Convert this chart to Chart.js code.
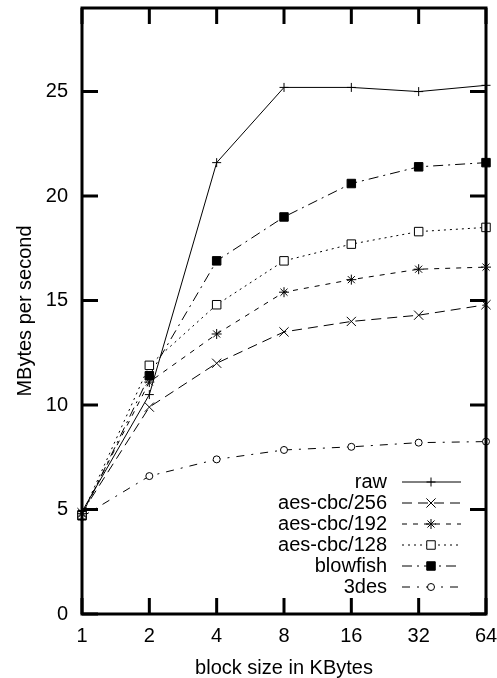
<!DOCTYPE html>
<html>
<head>
<meta charset="utf-8">
<script src="https://cdn.jsdelivr.net/npm/chart.js@4/dist/chart.umd.min.js"></script>
<style>
  body { margin: 0; background: #fff; }
  canvas { display: block; }
</style>
</head>
<body>
<canvas id="speed_chart" width="497" height="678"></canvas>
<script>
// block sizes (KBytes) and throughput values
const blockSizes = ["1", "2", "4", "8", "16", "32", "64"];
const yTicks = [0, 5, 10, 15, 20, 25];

const raw = [4.9, 10.5, 21.6, 25.2, 25.2, 25.0, 25.3];
const aes256 = [4.85, 9.9, 12.0, 13.5, 14.0, 14.3, 14.8];
const aes192 = [4.8, 11.1, 13.4, 15.4, 16.0, 16.5, 16.6];
const aes128 = [4.75, 11.9, 14.8, 16.9, 17.7, 18.3, 18.5];
const blowfish = [4.7, 11.4, 16.9, 19.0, 20.6, 21.4, 21.6];
const des3 = [4.65, 6.6, 7.4, 7.85, 8.0, 8.2, 8.25];

const FONT = "Liberation Sans, Arial, Helvetica, sans-serif";

function series(label, data, dash, style, radius, fill) {
  return {
    label: label,
    data: data,
    borderColor: "#000",
    borderWidth: 1,
    borderDash: dash,
    tension: 0,
    fill: false,
    clip: false,
    pointStyle: style,
    pointRadius: radius,
    pointHoverRadius: radius,
    pointBorderWidth: 1,
    pointBorderColor: "#000",
    pointBackgroundColor: fill,
  };
}

function noPadding(scale) {
  scale.paddingTop = 0;
  scale.paddingBottom = 0;
  scale.paddingLeft = 0;
  scale.paddingRight = 0;
}

// frame, inward ticks on all four sides, and gnuplot-style key
const framePlugin = {
  id: "frame",
  afterDraw(chart) {
    const ctx = chart.ctx;
    const a = chart.chartArea;
    const xs = chart.scales.x;
    const ys = chart.scales.y;
    const tl = 16;
    ctx.save();
    ctx.strokeStyle = "#000";
    ctx.lineWidth = 3;
    ctx.setLineDash([]);
    ctx.beginPath();
    yTicks.forEach((v) => {
      const py = ys.getPixelForValue(v);
      ctx.moveTo(a.left, py);
      ctx.lineTo(a.left + tl, py);
      ctx.moveTo(a.right, py);
      ctx.lineTo(a.right - tl, py);
    });
    blockSizes.forEach((b, i) => {
      const px = xs.getPixelForValue(i);
      ctx.moveTo(px, a.bottom);
      ctx.lineTo(px, a.bottom - tl);
      ctx.moveTo(px, a.top);
      ctx.lineTo(px, a.top + tl);
    });
    ctx.stroke();
    ctx.strokeRect(a.left, a.top, a.right - a.left, a.bottom - a.top);

    // key
    const textRight = 387;
    const x0 = 402, x1 = 461, xm = 431;
    let y = 482;
    ctx.font = "20px " + FONT;
    ctx.fillStyle = "#000";
    ctx.textAlign = "right";
    ctx.textBaseline = "middle";
    chart.data.datasets.forEach((ds) => {
      ctx.fillText(ds.label, textRight, y);
      ctx.lineWidth = 1;
      ctx.setLineDash(ds.borderDash);
      ctx.beginPath();
      ctx.moveTo(x0, y);
      ctx.lineTo(x1, y);
      ctx.stroke();
      ctx.setLineDash([]);
      ctx.fillStyle = ds.pointBackgroundColor;
      Chart.helpers.drawPoint(ctx, {
        pointStyle: ds.pointStyle,
        radius: ds.pointRadius,
        borderWidth: 1,
        rotation: 0,
      }, xm, y);
      ctx.fillStyle = "#000";
      y += 21;
    });
    ctx.restore();
  },
};

const ctx = document.getElementById("speed_chart").getContext("2d");
const speedChart = new Chart(ctx, {
  type: "line",
  data: {
    labels: blockSizes,
    datasets: [
      series("raw", raw, [], "cross", 4.5, "#000"),
      series("aes-cbc/256", aes256, [10, 6], "crossRot", 6.5, "#000"),
      series("aes-cbc/192", aes192, [5, 6], "star", 5, "#000"),
      series("aes-cbc/128", aes128, [2, 4], "rect", 6, "#fff"),
      series("blowfish", blowfish, [10, 5, 2, 5], "rect", 6, "#000"),
      series("3des", des3, [8, 7, 2, 7], "circle", 3.5, "#fff"),
    ],
  },
  options: {
    responsive: false,
    animation: false,
    events: [],
    layout: {
      padding: { left: 0, top: 8, right: 11, bottom: 0 },
    },
    plugins: {
      legend: { display: false },
      tooltip: { enabled: false },
    },
    scales: {
      x: {
        type: "category",
        offset: false,
        grid: { display: false, drawTicks: false },
        border: { display: false },
        ticks: {
          color: "#000",
          padding: 10,
          maxRotation: 0,
          autoSkip: false,
          font: { family: FONT, size: 20, lineHeight: 1.2 },
        },
        title: {
          display: true,
          text: "block size in KBytes",
          color: "#000",
          padding: 0,
          font: { family: FONT, size: 20, lineHeight: 1.0 },
        },
        afterFit(scale) {
          scale.height = 64;
          noPadding(scale);
        },
      },
      y: {
        min: 0,
        max: 29,
        grid: { display: false, drawTicks: false },
        border: { display: false },
        ticks: {
          color: "#000",
          padding: 14,
          font: { family: FONT, size: 20, lineHeight: 1.2 },
        },
        afterBuildTicks(scale) {
          scale.ticks = yTicks.map((v) => ({ value: v }));
        },
        title: {
          display: true,
          text: "MBytes per second",
          color: "#000",
          padding: { top: 13, bottom: 0 },
          font: { family: FONT, size: 20, lineHeight: 1.2 },
        },
        afterFit(scale) {
          scale.width = 82;
          noPadding(scale);
        },
      },
    },
  },
  plugins: [framePlugin],
});
</script>
</body>
</html>
